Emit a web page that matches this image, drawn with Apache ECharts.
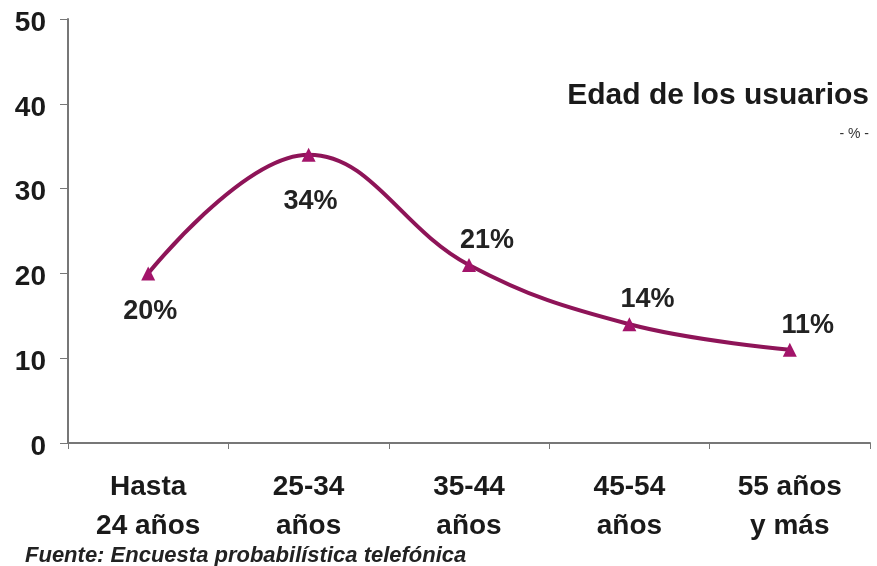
<!DOCTYPE html>
<html><head><meta charset="utf-8">
<script src="https://cdn.jsdelivr.net/npm/echarts@6/dist/echarts.min.js"></script>
<style>html,body{margin:0;padding:0;background:#fff}#c{width:877px;height:566px}</style>
</head><body><div id="c"></div>
<script>
const categories = ['Hasta\n24 años', '25-34\naños', '35-44\naños', '45-54\naños', '55 años\ny más'];
const values = [20, 34, 21, 14, 11];
const labelBelow = [true, true, false, false, false];
const yTicks = [0, 10, 20, 30, 40, 50];

const FONT = 'Liberation Sans, Arial, sans-serif';
const labelDist = [18, 26, 4, 4, 4];
const chart = echarts.init(document.getElementById('c'), null, {renderer: 'canvas'});
chart.setOption({
  animation: false,
  backgroundColor: '#fff',
  title: [
    {text: 'Edad de los usuarios', right: 3, top: 76,
     textStyle: {fontFamily: FONT, fontWeight: 'bold', fontSize: 30, color: '#1a1a1a'}},
    {text: '- % -', right: 3, top: 122,
     textStyle: {fontFamily: FONT, fontWeight: 'normal', fontSize: 14, color: '#333'}},
    {text: 'Fuente: Encuesta probabilística telefónica', left: 20, top: 540,
     textStyle: {fontFamily: FONT, fontWeight: 'bold', fontStyle: 'italic', fontSize: 22, color: '#222'}}
  ],
  grid: {left: 68, right: 7, top: 19, bottom: 123},
  xAxis: {
    type: 'category', data: categories, boundaryGap: true,
    axisLine: {lineStyle: {color: '#777', width: 2}},
    axisTick: {show: true, alignWithLabel: false, length: 6, lineStyle: {color: '#777'}},
    axisLabel: {margin: 25, fontFamily: FONT, fontWeight: 'bold', fontSize: 28, lineHeight: 39, color: '#1a1a1a'}
  },
  yAxis: {
    type: 'value', min: yTicks[0], max: yTicks[yTicks.length - 1], interval: 10,
    splitLine: {show: false},
    axisLine: {show: true, lineStyle: {color: '#777', width: 2}},
    axisTick: {show: true, length: 8, lineStyle: {color: '#777'}},
    axisLabel: {margin: 22, verticalAlign: 'top', lineHeight: 8, fontFamily: FONT, fontWeight: 'bold', fontSize: 28, color: '#1a1a1a'}
  },
  series: [{
    type: 'line', smooth: 0.4,
    data: values.map((v, i) => ({value: v, label: {
      position: labelBelow[i] ? 'bottom' : 'top', distance: labelDist[i],
      offset: labelBelow[i] ? [2, 0] : [18, 0]}})),
    symbol: 'triangle', symbolSize: 14,
    lineStyle: {color: '#8e1458', width: 4},
    itemStyle: {color: '#a3146a'},
    label: {show: true, formatter: p => p.value + '%',
      fontFamily: FONT, fontWeight: 'bold', fontSize: 27, color: '#222'}
  }]
});
</script></body></html>
